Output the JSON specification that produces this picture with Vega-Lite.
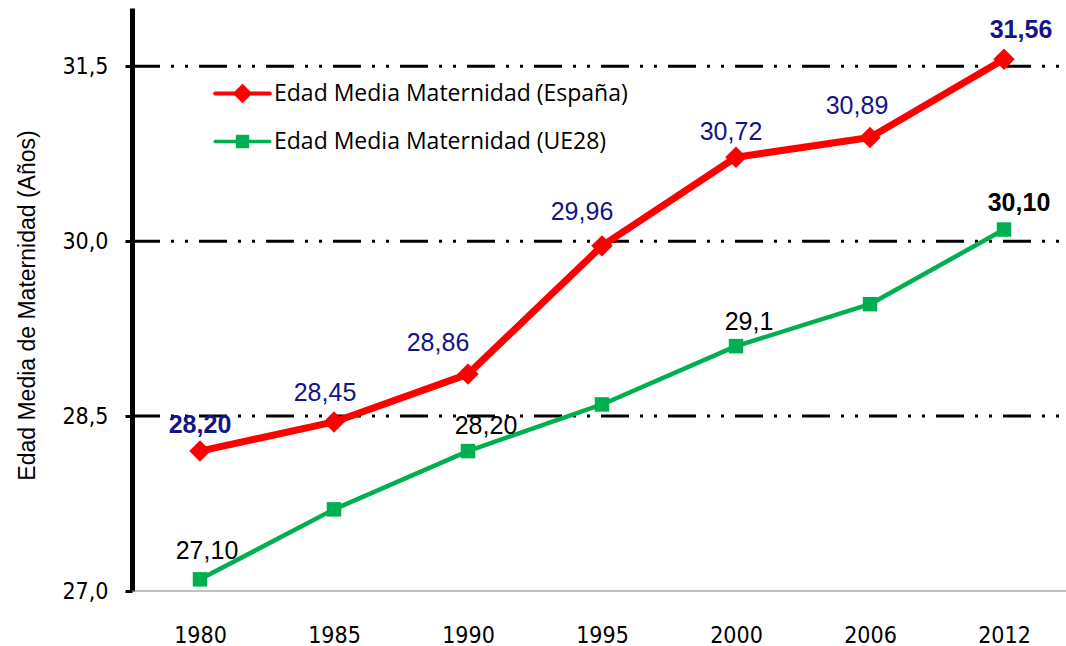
{
  "$schema": "https://vega.github.io/schema/vega-lite/v6.json",
  "width": 934,
  "height": 583,
  "autosize": {"type": "none"},
  "padding": {"left": 132, "top": 8, "right": 0, "bottom": 55},
  "background": "white",
  "config": {"view": {"stroke": null}},
  "datasets": {
    "grid": [{"g": 28.5}, {"g": 30.0}, {"g": 31.5}],
    "base": [{"g": 27.0}],
    "series": [
      {"year": "1980", "serie": "España", "value": 28.20, "label": "28,20"},
      {"year": "1985", "serie": "España", "value": 28.45, "label": "28,45"},
      {"year": "1990", "serie": "España", "value": 28.86, "label": "28,86"},
      {"year": "1995", "serie": "España", "value": 29.96, "label": "29,96"},
      {"year": "2000", "serie": "España", "value": 30.72, "label": "30,72"},
      {"year": "2006", "serie": "España", "value": 30.89, "label": "30,89"},
      {"year": "2012", "serie": "España", "value": 31.56, "label": "31,56"},
      {"year": "1980", "serie": "UE28", "value": 27.10, "label": "27,10"},
      {"year": "1985", "serie": "UE28", "value": 27.70, "label": ""},
      {"year": "1990", "serie": "UE28", "value": 28.20, "label": "28,20"},
      {"year": "1995", "serie": "UE28", "value": 28.60, "label": ""},
      {"year": "2000", "serie": "UE28", "value": 29.10, "label": "29,1"},
      {"year": "2006", "serie": "UE28", "value": 29.46, "label": ""},
      {"year": "2012", "serie": "UE28", "value": 30.10, "label": "30,10"}
    ]
  },
  "layer": [
    {
      "data": {"name": "grid"},
      "mark": {"type": "rule", "color": "black", "strokeWidth": 3, "strokeDash": [28, 11, 3, 11, 3, 11], "strokeDashOffset": 32},
      "encoding": {
        "y": {
          "field": "g", "type": "quantitative",
          "scale": {"domain": [27, 32], "nice": false, "zero": false},
          "axis": {
            "values": [27, 28.5, 30, 31.5],
            "labelExpr": "replace(format(datum.value, '.1f'), '.', ',')",
            "labelFont": "DejaVu Sans Condensed", "labelFontSize": 23, "labelColor": "black",
            "labelPadding": 17,
            "domainColor": "black", "domainWidth": 5,
            "tickColor": "black", "tickWidth": 3, "tickSize": 7,
            "grid": false,
            "title": "Edad Media de Maternidad (Años)",
            "titleFont": "Liberation Sans", "titleFontSize": 23, "titleFontWeight": "normal", "titleColor": "black",
            "titleAngle": 270, "titleBaseline": "alphabetic", "titleAlign": "center",
            "titleX": -98, "titleY": 297
          }
        }
      }
    },
    {
      "data": {"name": "base"},
      "mark": {"type": "rule", "color": "#808080", "strokeWidth": 1.2},
      "encoding": {
        "y": {"field": "g", "type": "quantitative"}
      }
    },
    {
      "data": {"name": "series"},
      "encoding": {
        "x": {
          "field": "year", "type": "ordinal", "sort": null,
          "scale": {"type": "point", "range": [68, 872], "padding": 0},
          "axis": {
            "title": null, "domain": false, "ticks": false, "tickSize": 0, "grid": false,
            "labelFont": "DejaVu Sans Condensed", "labelFontSize": 23, "labelColor": "black",
            "labelBaseline": "alphabetic", "labelPadding": 51, "labelAngle": 0
          }
        },
        "y": {"field": "value", "type": "quantitative"}
      },
      "layer": [
        {
          "transform": [{"filter": "datum.serie == 'España'"}],
          "mark": {"type": "line", "strokeWidth": 7, "strokeJoin": "round"},
          "encoding": {
            "color": {
              "field": "serie", "type": "nominal",
              "scale": {"domain": ["España", "UE28"], "range": ["#ff0000", "#00b050"]},
              "legend": {
                "title": null, "orient": "none", "legendX": 99, "legendY": 74,
                "labelExpr": "'Edad Media Maternidad (' + datum.label + ')'",
                "labelFont": "Open Sans", "labelFontSize": 23, "labelColor": "black", "labelLimit": 600,
                "labelOffset": 20, "rowPadding": 20, "symbolSize": 196,
                "encode": {
                  "symbols": {
                    "update": {
                      "shape": {"signal": "datum.value == 'España' ? 'M-3.9,0L3.9,0M0,-1L1,0L0,1L-1,0Z' : 'M-3.9,0L3.9,0M-0.7,-0.7L0.7,-0.7L0.7,0.7L-0.7,0.7Z'"},
                      "fill": {"signal": "datum.value == 'España' ? '#ff0000' : '#00b050'"},
                      "stroke": {"signal": "datum.value == 'España' ? '#ff0000' : '#00b050'"},
                      "strokeWidth": {"signal": "datum.value == 'España' ? 4 : 3.5"},
                      "strokeCap": {"value": "round"},
                      "fillOpacity": {"value": 1},
                      "opacity": {"value": 1}
                    }
                  }
                }
              }
            }
          }
        },
        {
          "transform": [{"filter": "datum.serie == 'UE28'"}],
          "mark": {"type": "line", "strokeWidth": 4.5, "strokeJoin": "round"},
          "encoding": {"color": {"field": "serie", "type": "nominal"}}
        },
        {
          "transform": [{"filter": "datum.serie == 'España'"}],
          "mark": {"type": "point", "shape": "diamond", "filled": true, "size": 460, "color": "#ff0000", "opacity": 1}
        },
        {
          "transform": [{"filter": "datum.serie == 'UE28'"}],
          "mark": {"type": "point", "shape": "square", "filled": true, "size": 210, "color": "#00b050", "opacity": 1}
        },
        {
          "transform": [{"filter": "datum.serie == 'España' && datum.year == '1980'"}],
          "mark": {"type": "text", "font": "Liberation Sans", "fontSize": 25, "fontWeight": "bold", "color": "#141488", "baseline": "middle", "align": "center", "dx": 0, "dy": -26},
          "encoding": {"text": {"field": "label"}}
        },
        {
          "transform": [{"filter": "datum.serie == 'España' && datum.year == '1985'"}],
          "mark": {"type": "text", "font": "Liberation Sans", "fontSize": 25, "color": "#141488", "baseline": "middle", "align": "center", "dx": -9, "dy": -29},
          "encoding": {"text": {"field": "label"}}
        },
        {
          "transform": [{"filter": "datum.serie == 'España' && datum.year == '1990'"}],
          "mark": {"type": "text", "font": "Liberation Sans", "fontSize": 25, "color": "#141488", "baseline": "middle", "align": "center", "dx": -30, "dy": -31},
          "encoding": {"text": {"field": "label"}}
        },
        {
          "transform": [{"filter": "datum.serie == 'España' && datum.year == '1995'"}],
          "mark": {"type": "text", "font": "Liberation Sans", "fontSize": 25, "color": "#141488", "baseline": "middle", "align": "center", "dx": -20, "dy": -34},
          "encoding": {"text": {"field": "label"}}
        },
        {
          "transform": [{"filter": "datum.serie == 'España' && datum.year == '2000'"}],
          "mark": {"type": "text", "font": "Liberation Sans", "fontSize": 25, "color": "#141488", "baseline": "middle", "align": "center", "dx": -5, "dy": -25},
          "encoding": {"text": {"field": "label"}}
        },
        {
          "transform": [{"filter": "datum.serie == 'España' && datum.year == '2006'"}],
          "mark": {"type": "text", "font": "Liberation Sans", "fontSize": 25, "color": "#141488", "baseline": "middle", "align": "center", "dx": -13, "dy": -31},
          "encoding": {"text": {"field": "label"}}
        },
        {
          "transform": [{"filter": "datum.serie == 'España' && datum.year == '2012'"}],
          "mark": {"type": "text", "font": "Liberation Sans", "fontSize": 25, "fontWeight": "bold", "color": "#141488", "baseline": "middle", "align": "center", "dx": 17, "dy": -29},
          "encoding": {"text": {"field": "label"}}
        },
        {
          "transform": [{"filter": "datum.serie == 'UE28' && datum.year == '1980'"}],
          "mark": {"type": "text", "font": "Liberation Sans", "fontSize": 25, "color": "black", "baseline": "middle", "align": "center", "dx": 7, "dy": -28},
          "encoding": {"text": {"field": "label"}}
        },
        {
          "transform": [{"filter": "datum.serie == 'UE28' && datum.year == '1990'"}],
          "mark": {"type": "text", "font": "Liberation Sans", "fontSize": 25, "color": "black", "baseline": "middle", "align": "center", "dx": 18, "dy": -25},
          "encoding": {"text": {"field": "label"}}
        },
        {
          "transform": [{"filter": "datum.serie == 'UE28' && datum.year == '2000'"}],
          "mark": {"type": "text", "font": "Liberation Sans", "fontSize": 25, "color": "black", "baseline": "middle", "align": "center", "dx": 13, "dy": -24},
          "encoding": {"text": {"field": "label"}}
        },
        {
          "transform": [{"filter": "datum.serie == 'UE28' && datum.year == '2012'"}],
          "mark": {"type": "text", "font": "Liberation Sans", "fontSize": 25, "fontWeight": "bold", "color": "black", "baseline": "middle", "align": "center", "dx": 15, "dy": -27},
          "encoding": {"text": {"field": "label"}}
        }
      ]
    }
  ]
}
